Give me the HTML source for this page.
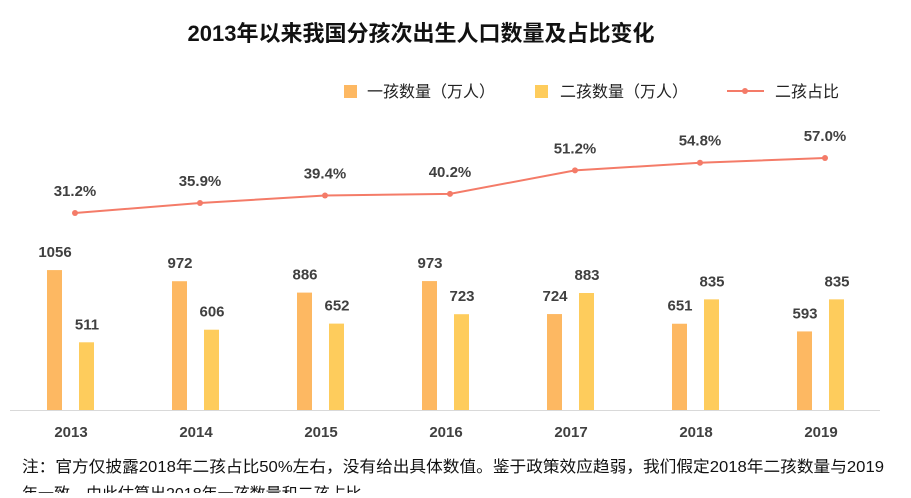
<!DOCTYPE html>
<html><head><meta charset="utf-8"><style>
body{margin:0;background:#fff;width:911px;height:493px;overflow:hidden;font-family:"Liberation Sans","Noto Sans CJK SC",sans-serif}
</style></head><body>
<svg id="c" width="911" height="493" xmlns="http://www.w3.org/2000/svg" style="font-family:'Liberation Sans','Noto Sans CJK SC',sans-serif">
<text x="421" y="41" text-anchor="middle" font-size="22" font-weight="bold" fill="#111">2013年以来我国分孩次出生人口数量及占比变化</text>
<g>
<rect x="344" y="85" width="13" height="13" fill="#FDB862"/>
<text x="367" y="97" font-size="16" fill="#222">一孩数量（万人）</text>
<rect x="535" y="85" width="13" height="13" fill="#FECC5C"/>
<text x="560" y="97" font-size="16" fill="#222">二孩数量（万人）</text>
<line x1="727" y1="91" x2="764" y2="91" stroke="#F47B68" stroke-width="2"/>
<circle cx="745" cy="91" r="3" fill="#F47B68"/>
<text x="775" y="97" font-size="16" fill="#222">二孩占比</text>
</g>
<line x1="10" y1="410.5" x2="880" y2="410.5" stroke="#d9d9d9"/>
<g id="marks"></g>
<text x="22" y="472" font-size="16" fill="#111" textLength="862" lengthAdjust="spacingAndGlyphs">注：官方仅披露2018年二孩占比50%左右，没有给出具体数值。鉴于政策效应趋弱，我们假定2018年二孩数量与2019</text>
<text x="22" y="499" font-size="16" fill="#111">年一致，由此估算出2018年一孩数量和二孩占比。</text>
</svg>
<script>
const years=["2013","2014","2015","2016","2017","2018","2019"];
const firstChild=[1056,972,886,973,724,651,593];
const secondChild=[511,606,652,723,883,835,835];
const share=[31.2,35.9,39.4,40.2,51.2,54.8,57.0];
const NS="http://www.w3.org/2000/svg";
const g=document.getElementById('marks');
const xC=i=>71+i*125;
const yB=v=>410-v*0.1325;
const yL=p=>213-(p-31.2)*2.13;
function mk(t,a){const e=document.createElementNS(NS,t);for(const k in a)e.setAttribute(k,a[k]);g.appendChild(e);return e;}
years.forEach((y,i)=>{
 const b1=mk('rect',{x:xC(i)-24,y:yB(firstChild[i]),width:15,height:410-yB(firstChild[i]),fill:'#FDB862'});
 
 
 const b2=mk('rect',{x:xC(i)+8,y:yB(secondChild[i]),width:15,height:410-yB(secondChild[i]),fill:'#FECC5C'});
 
 
 const t1=mk('text',{x:xC(i)-16,y:yB(firstChild[i])-13,'text-anchor':'middle','font-size':15,'font-weight':'bold',fill:'#404040'});
 t1.textContent=firstChild[i];
 
 
 const t2=mk('text',{x:xC(i)+16,y:yB(secondChild[i])-13,'text-anchor':'middle','font-size':15,'font-weight':'bold',fill:'#404040'});
 t2.textContent=secondChild[i];
 
 
 const tx=mk('text',{x:xC(i),y:437,'text-anchor':'middle','font-size':15,'font-weight':'bold',fill:'#404040'});
 tx.textContent=y;
 
 
});
const pl=mk('polyline',{points:share.map((p,i)=>(xC(i)+4)+','+yL(p)).join(' '),fill:'none',stroke:'#F47B68','stroke-width':2});


share.forEach((p,i)=>{
 const c=mk('circle',{cx:xC(i)+4,cy:yL(p),r:3,fill:'#F47B68'});
 
 
 const t=mk('text',{x:xC(i)+4,y:yL(p)-17,'text-anchor':'middle','font-size':15,'font-weight':'bold',fill:'#404040'});
 t.textContent=p.toFixed(1)+'%';
 
 
});
</script>
</body></html>
